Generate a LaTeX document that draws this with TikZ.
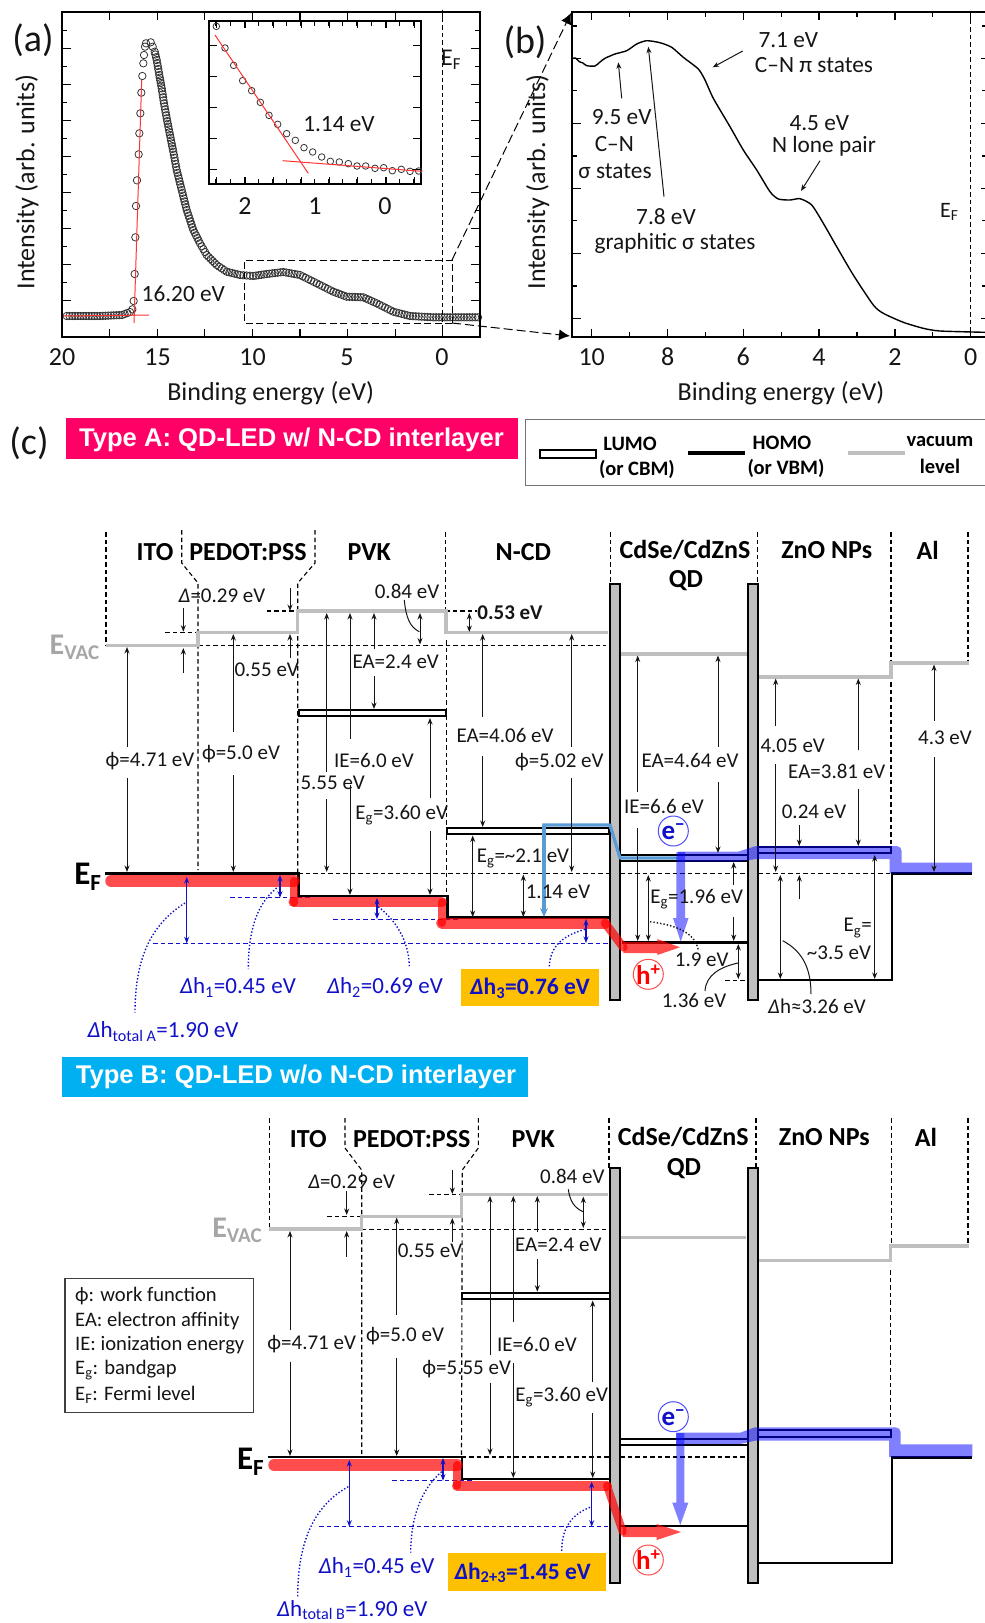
\documentclass[tikz,border=0pt]{standalone}
\usepackage{fontspec}
\setmainfont{Carlito}
\newfontfamily\arialf{Liberation Sans}
\usetikzlibrary{arrows.meta}
\definecolor{tx}{HTML}{151515}
\definecolor{lev}{HTML}{BFBFBF}
\definecolor{evac}{HTML}{A6A6A6}
\definecolor{bl}{HTML}{1010C8}
\definecolor{lb}{HTML}{5B9BD5}
\definecolor{pinkb}{HTML}{FF0066}
\definecolor{cyanb}{HTML}{00B0F0}
\definecolor{orb}{HTML}{FFC000}
\tikzset{
 txt/.style={inner sep=0pt,text=tx,align=center,font=\fontsize{21}{23}\selectfont},
 axl/.style={txt,font=\fontsize{26}{28}\selectfont},
 spl/.style={txt,font=\fontsize{23.3}{25}\selectfont},
 hdl/.style={txt,text=black,font=\fontsize{26}{28}\selectfont\bfseries},
 leg/.style={txt,text=black,font=\fontsize{20.5}{23}\selectfont\bfseries},
 blt/.style={txt,text=bl,font=\fontsize{23}{25}\selectfont},
 blb/.style={txt,text=bl,font=\fontsize{23.5}{25}\selectfont\bfseries},
 pan/.style={txt,font=\fontsize{38}{40}\selectfont},
 frm/.style={line width=1.8pt,black},
 tick/.style={line width=1.3pt,black},
 lev/.style={line width=3.2pt,color=lev},
 hm/.style={line width=2.4pt,black},
 lm/.style={line width=1.9pt,black,fill=white},
 bar/.style={line width=1.7pt,black,fill=lev},
 dsh/.style={line width=1.1pt,black,dash pattern=on 4.5pt off 3pt},
 arr/.style={-{Stealth[length=6.5pt,width=5pt]},line width=1pt,tx},
 dar/.style={{Stealth[length=6.5pt,width=5pt]}-{Stealth[length=6.5pt,width=5pt]},line width=1pt,tx},
 bdar/.style={{Stealth[length=6.5pt,width=5pt]}-{Stealth[length=6.5pt,width=5pt]},line width=1.4pt,bl},
 bdsh/.style={line width=1.1pt,bl,dash pattern=on 4.5pt off 3pt},
 bdot/.style={line width=1.4pt,bl,dotted},
 thinc/.style={line width=1pt,tx},
 rd/.style={draw=red,opacity=.7,line cap=round,line join=round},
 rdf/.style={fill=red,opacity=.7},
 blf/.style={fill=blue,opacity=.5},
 circ/.style={line width=.8pt,draw=black!80},
 redl/.style={line width=1pt,color=red!80},
 zoomd/.style={line width=.9pt,black,dash pattern=on 7pt off 3.5pt},
 efn/.style={txt,text=black,font=\fontsize{33}{33}\selectfont\bfseries},
 evn/.style={txt,text=evac,font=\fontsize{30}{32}\selectfont\bfseries},
 eln/.style={txt,text=bl,font=\fontsize{27}{27}\selectfont\bfseries},
 hol/.style={txt,text=red,font=\fontsize{27}{28}\selectfont\bfseries},
 bann/.style={txt,text=white,font=\arialf\bfseries\fontsize{25.6}{27}\selectfont},
}
\newcounter{lc}
\newcommand\lab[4][txt]{\stepcounter{lc}\node[#1,name=n\thelc] at (#2,#3) {#4};}
\newcommand\upd[4][arr]{\draw[#1] (#2,#3) -- (#2,#4);}
\newcommand\phis{ϕ}
\begin{document}
\begin{tikzpicture}[x=1pt,y=-1pt]
\useasboundingbox (0,0) rectangle (985,1623);
% ---------- panel a
\foreach \i in {0,1,...,8}{
  \draw[tick] (62+47.6*\i,337) -- ++(0,-8);
  \draw[tick] (62+47.6*\i,12) -- ++(0,8);}
\foreach \y in {48.3,84.6,120.3,156.3,192.3,228.3,264.3,300.3}{
  \draw[tick] (62,\y) -- ++(9,0); \draw[tick] (480,\y) -- ++(-9,0);}
\foreach \y in {30.7,66.7,102.7,138.7,174.7,210.7,246.7,282.7}{
  \draw[tick] (62,\y) -- ++(5,0); \draw[tick] (480,\y) -- ++(-5,0);}
\foreach \x/\y [remember=\x as \px (initially 64),remember=\y as \py (initially 316)] in {100/316,122/315,130/312}{
  \pgfmathsetmacro\nn{max(1,int(veclen(\x-\px,\y-\py)/2.7))}
  \foreach \k in {1,...,\nn}{\draw[circ] ({\px+(\x-\px)*\k/\nn},{\py+(\y-\py)*\k/\nn}) circle (3.7pt);}}
\foreach \x/\y in {397/928,401/903,404/822,406/712,408/618,411/541,416/463,418/400,421/340,424/278,427/228,430/190,432/165,435/140,438/130}{
  \draw[circ] (\x/3,\y/3) circle (3.7pt);}
\foreach \x/\y [remember=\x as \px (initially 146),remember=\y as \py (initially 41.5)] in {150.7/42.3,152.7/46.7,154.7/51.7,156.7/60,159.3/75,161.7/88.3,164/103.3,166.7/118.3,170/135,173.3/151.7,176.7/170,181.7/190,186.7/210,193.3/230,200/243.3,206.7/255,216.7/265,226.7/271.7,240/275,253.3/276,266.7/274,283.3/272,300/275,316.7/283.3,333.3/291.7,346.7/296.7,363.3/297.3,376.7/303.3,393.3/311.7,410/316,433.3/317.3,478/317.3}{
  \pgfmathsetmacro\nn{max(1,int(veclen(\x-\px,\y-\py)/2.7))}
  \foreach \k in {1,...,\nn}{\draw[circ] ({\px+(\x-\px)*\k/\nn},{\py+(\y-\py)*\k/\nn}) circle (3.7pt);}}
\draw[redl] (134,323) -- (141.7,80);
\draw[redl] (63,316) -- (149,315);
\draw[frm] (62,12) rectangle (480,337);
\draw[dsh] (442.3,10) -- (442.3,337);
\draw[zoomd] (452,323) -- (244,323) -- (244,260) -- (452,260) -- (452,323);
\coordinate (zb) at (452,323);\coordinate (zt) at (452,260);
\lab[axl]{62}{357}{20}\lab[axl]{157.5}{357}{15}\lab[axl]{252.5}{357}{10}\lab[axl]{347}{357}{5}\lab[axl]{442}{357}{0}
\lab[axl]{270.7}{393}{Binding energy (eV)}
\node[axl,rotate=90,name=ya] at (27,182) {Intensity (arb. units)};
\lab[spl]{183.3}{293.5}{16.20 eV}
\lab[txt,font=\fontsize{24}{26}\selectfont]{451}{60}{E\textsubscript{F}}
\lab[pan]{33}{40}{(a)}
% inset
\draw[line width=1.6pt,fill=white] (209,21) rectangle (421,184);
\foreach \i in {0,...,14}{
  \draw[line width=1.1pt] (216+14.1*\i,184) -- ++(0,-5);
  \draw[line width=1.1pt] (216+14.1*\i,21) -- ++(0,5);}
\foreach \i in {0,...,7}{
  \draw[line width=1.1pt] (216.8+28.2*\i,184) -- ++(0,-7);
  \draw[line width=1.1pt] (216.8+28.2*\i,21) -- ++(0,7);}
\foreach \y in {45.7,76.7,107.7,138.3,169.3}{
  \draw[line width=1.2pt] (209,\y) -- ++(8,0); \draw[line width=1.2pt] (421,\y) -- ++(-8,0);}
\foreach \x/\y in {649/79,675/144,701/196,728/242,755/272,781/307,807/346,833/373,860/401,886/421,912/443,938/456,965/471,991/484,1018/486,1045/491,1071/498,1097/498,1125/505,1151/503,1177/512,1204/508,1230/514,1256/513}{
  \draw[line width=.8pt,draw=black!80] (\x/3,\y/3) circle (3.3pt);}
\draw[redl] (215,35) -- (308.3,173.3);
\draw[redl] (282.7,160.7) -- (421.7,171.3);
\lab[spl]{339}{124}{1.14 eV}
\lab[axl]{245}{205.7}{2}\lab[axl]{315}{205.7}{1}\lab[axl]{385}{205.7}{0}
% ---------- panel b
\foreach \i in {0,2,...,10}{
  \draw[tick] (591.7+37.9*\i,337) -- ++(0,-8);
  \draw[tick] (591.7+37.9*\i,12) -- ++(0,8);}
\foreach \i in {1,3,...,9}{
  \draw[tick] (591.7+37.9*\i,337) -- ++(0,-5);
  \draw[tick] (591.7+37.9*\i,12) -- ++(0,5);}
\foreach \y in {58.3,123.3,188.7,253.3,318.3}{
  \draw[tick] (572,\y) -- ++(9,0); \draw[tick] (985,\y) -- ++(-4,0);}
\foreach \y in {26,90.7,156,220.7,286}{
  \draw[tick] (572,\y) -- ++(5,0); \draw[tick] (985,\y) -- ++(-3,0);}
\draw[line width=1.4pt,black] plot[smooth,tension=.4] coordinates {(573.3,58.3)(575.5,58)(579.3,61.7)(583,63)(586.7,65.7)(595,66)(600,62)(605,58.3)(615,54)(626.7,50.7)(636.7,44)(646.7,40.7)(660,42.7)(671.7,47.3)(683.3,57.3)(698.3,69)(705,80)(713.3,98.3)(730,126.7)(743.3,150)(756.7,170)(770,191.7)(778.3,199)(790,200)(800,198.7)(811.7,205)(823.3,223.3)(836.7,246.7)(853.3,275)(873.3,305)(883.3,313.3)(903.3,322.3)(923.3,328.3)(940,331)(985,332.3)};
\draw[frm] (985,12) -- (572,12) -- (572,337) -- (985,337);
\draw[dsh] (970.7,12) -- (970.7,332);
\coordinate (bt) at (571,13);\coordinate (bb) at (570,336);
\draw[line width=1pt,black,dash pattern=on 9pt off 4pt,-{Latex[length=11pt,width=11pt]}] (zt) -- (bt);
\draw[line width=1pt,black,dash pattern=on 9pt off 4pt,-{Latex[length=11pt,width=11pt]}] (zb) -- (bb);
\draw[arr] (621.7,98.3) -- (618.3,62.3);
\draw[arr] (664,196.7) -- (648.3,46.7);
\draw[arr] (742.7,51) -- (712.7,67.3);
\draw[arr] (820,160.7) -- (801,191);
\foreach \x/\t in {591.7/10,667.7/8,743.3/6,819/4,895/2,970.7/0}{\lab[axl]{\x}{357}{\t}}
\lab[axl]{781}{393}{Binding energy (eV)}
\node[axl,rotate=90,name=yb] at (537.7,182) {Intensity (arb. units)};
\lab[pan]{525}{42}{(b)}
\lab[spl]{788.3}{40}{7.1 eV}\lab[spl]{814}{65}{C–N π states}
\lab[spl]{621.7}{117.3}{9.5 eV}\lab[spl]{614.3}{144}{C–N}\lab[spl]{615}{171.7}{σ states}
\lab[spl]{666}{216.7}{7.8 eV}\lab[spl]{675}{243.3}{graphitic σ states}
\lab[spl]{819.3}{122.7}{4.5 eV}\lab[spl]{824}{146.7}{N lone pair}
\lab[txt,font=\fontsize{22}{24}\selectfont]{949.3}{212}{E\textsubscript{F}}
% ---------- banners
\lab[pan]{29}{443}{(c)}
\fill[pinkb] (66,418) rectangle (518,459);
\lab[bann]{291.5}{439.5}{Type A: QD-LED w/ N-CD interlayer}
\fill[cyanb] (62.3,1057) rectangle (528,1097);
\lab[bann]{296}{1077}{Type B: QD-LED w/o N-CD interlayer}
\draw[line width=1pt,black!55] (985,419) -- (525.7,419) -- (525.7,485.7) -- (985,485.7);
\draw[line width=1.8pt] (540,450) rectangle (596,458);
\draw[line width=4.2pt] (688,453) -- (745,453);
\draw[line width=4.2pt,lev] (848,453) -- (905,453);
\lab[leg]{630}{444}{LUMO}\lab[leg]{637}{469}{(or CBM)}
\lab[leg]{782}{443}{HOMO}\lab[leg]{786}{468}{(or VBM)}
\lab[leg]{940}{442}{vacuum}\lab[leg]{940}{466}{level}
% ---------- Type A
\draw[dsh] (106,532) -- (106,645);
\draw[dsh] (181.7,530) -- (181.7,563) -- (198,583) -- (198,870);
\draw[dsh] (315,530) -- (315,563) -- (297.7,583) -- (297.7,873);
\draw[dsh] (445.5,532) -- (445.5,611) (446.7,640) -- (446.7,897);
\draw[dsh] (610.7,532) -- (610.7,584);
\draw[dsh] (757.7,532) -- (757.7,584);
\draw[dsh] (891,532) -- (891,845);
\draw[dsh] (968,532) -- (968,660);
\draw[dsh] (198,645.7) -- (606,645.7);
\draw[dsh] (165,632.7) -- (198,632.7);
\draw[dsh] (266.7,611) -- (298,611);
\draw[dsh] (445,611) -- (476.7,611);
\draw[dsh] (298,873.3) -- (610,873.3) (620,873.3) -- (748,873.3) (758,873.3) -- (891,873.3);
\draw[dsh] (725,980.7) -- (748,980.7);
\draw[bdsh] (153.3,943.3) -- (608,943.3);
\draw[bdsh] (230,897.7) -- (310,897.7);
\draw[bdsh] (333.3,919.3) -- (460,919.3);
\draw[lev] (106,645.7) -- (198,645.7) -- (198,632.7) -- (297.7,632.7) -- (297.7,611) -- (446,611) -- (446,632.7) -- (608,632.7);
\draw[lev] (620.7,654) -- (746.7,654);
\draw[lev] (759,677) -- (891,677) -- (891,663) -- (969,663);
\draw[lm] (299,710) rectangle (445.7,716);
\draw[lm] (446.7,828.3) rectangle (609,834.3);
\draw[line width=1.9pt] (620,855) -- (748,855) (620,860.7) -- (748,860.7);
\draw[lm,fill=none] (758.3,847.3) rectangle (890.7,853.3);
\draw[hm] (105,873.3) -- (298.3,873.3) -- (298.3,896) -- (447.3,896) -- (447.3,917.3) -- (609,917.3);
\draw[hm] (621.7,942.3) -- (748.3,942.3);
\draw[hm] (758.3,980) -- (891.7,980) -- (891.7,873.3) -- (971.7,873.3);
% bars
\draw[bar] (610,584) rectangle (620,1000);
\draw[bar] (747.7,584) rectangle (758.3,1000);
% light blue
\draw[line width=3.2pt,lb,line join=round] (542.4,825) -- (610,825) -- (620,858) -- (678,858);
\draw[line width=3.2pt,lb,-{Stealth[length=9pt,width=8pt]}] (544,825) -- (544,917);
% red
\draw[rd,line width=11.5pt] (111,881) -- (294,881);
\draw[rd,line width=8pt] (293.7,881) -- (293.7,902.7);
\draw[rd,line width=10.5pt] (293.7,902) -- (441.7,902);
\draw[rd,line width=8pt] (441.7,902) -- (441.7,923);
\draw[rd,line width=11pt] (441.7,923) -- (605,923);
\draw[rd,line width=8.5pt] (605,923) -- (623.3,947.3);
\fill[rdf] (623.3,942) -- (657.3,942) -- (657.3,939) -- (680,947.3) -- (657.3,955) -- (657.3,953) -- (623.3,953) -- cycle;
% blue
\path[blf] (678,851.7) -- (738,851.7) -- (756,846) [rounded corners=5pt] -- (901.7,846) [sharp corners] -- (901.7,862.7) -- (972,862.7) -- (972,873.3) -- (889.7,873.3) -- (889.7,859) -- (756,859) -- (738,861.7) -- (678,861.7) -- cycle;
\path[blf] (676.3,852) -- (685,852) -- (685,918) -- (688.5,918) -- (680.7,941.7) -- (673,918) -- (676.3,918) -- cycle;
% arrows
\upd{127}{746.7}{647}\upd{127}{777.7}{872}
\upd{233.3}{731.7}{634}\upd{233.3}{775}{872}
\upd{183.3}{608}{631.7}\upd{183.3}{673}{648}
\upd{290}{587.7}{611}\upd{290}{658}{634}
\upd{326.7}{771.7}{613}\upd{326.7}{799}{872}
\upd{350}{739}{613}\upd{350}{785}{895}
\upd{374}{649}{613}\upd{374}{675.7}{709}
\upd{430}{798}{718}\upd{430}{830.7}{895}
\upd[dar]{420}{613}{644.5}
\upd[dar]{469.3}{613}{632}
\upd{482.7}{716.7}{634}\upd{482.7}{755.7}{827}
\upd[dar]{472.7}{835.5}{917}
\upd[dar]{523.3}{874.5}{917}
\upd{571.7}{746.7}{634}\upd{571.7}{778}{872}
\upd{637.7}{792.3}{655.5}\upd{637.7}{828}{941}
\upd{718}{746.7}{655.5}\upd{718}{782}{853}
\upd[dar]{648.3}{875}{941}
\upd{733.7}{885}{862}\upd{733.7}{916.7}{941}
\upd[dar]{738.3}{944}{979}
\upd{775.7}{725.7}{678.5}\upd{775.7}{764.3}{872}
\upd{858.3}{750}{678.5}\upd{858.3}{789}{846}
\upd{799.3}{825}{846}\upd{799.3}{899.3}{875}
\upd[dar]{780.3}{875}{979}
\upd[dar]{874.7}{855}{979}
\upd{934}{720.7}{664.5}\upd{934}{757.3}{872}
\draw[thinc] (404.3,600) .. controls (406,618) and (410,627) .. (419.3,631.7);
\draw[thinc] (782.7,940.7) .. controls (800,950) and (811,965) .. (811,994);
\draw[thinc] (738,963) .. controls (720,967) and (706,975) .. (705,991);
\draw[line width=1.4pt,tx,dotted] (650,921.7) .. controls (675,925) and (695,932) .. (698.3,950);
\upd[bdar]{186.7}{877}{943.3}
\upd[bdar]{280}{875}{897.7}
\upd[bdar]{377}{898}{919}
\upd[bdar]{586}{919}{943}
\draw[bdot] (185,903) .. controls (150,925) and (135,960) .. (135,1012.7);
\draw[bdot] (276.7,888) .. controls (255,905) and (248.3,935) .. (248.3,969);
\draw[bdot] (378.3,906.7) .. controls (395,920) and (409.3,940) .. (409.3,967.7);
\draw[bdot] (585,929.3) .. controls (565,935) and (549.3,945) .. (549.3,968);
% labels A
\foreach \x/\t in {155/ITO,248/PEDOT:PSS,369.3/PVK,523.3/N-CD}{\lab[hdl]{\x}{551.7}{\t}}
\lab[hdl]{685}{550}{CdSe/CdZnS}\lab[hdl]{686}{581}{QD}\lab[hdl]{826.7}{550}{ZnO NPs}\lab[hdl]{927.7}{550}{Al}
\lab[evn]{74.7}{647}{E\textsubscript{VAC}}
\lab[efn]{88}{877}{E\textsubscript{F}}
\lab{222}{596}{\textit{Δ}=0.29 eV}\lab{266.7}{670}{0.55 eV}\lab{407}{591}{0.84 eV}
\lab[txt,font=\fontsize{21}{23}\selectfont\bfseries]{510}{613}{0.53 eV}
\lab{395.7}{661.7}{EA=2.4 eV}\lab{150}{761}{\phis=4.71 eV}\lab{241}{754}{\phis=5.0 eV}
\lab{374}{760.7}{IE=6.0 eV}\lab{332.7}{783}{5.55 eV}\lab{401.7}{815}{E\textsubscript{g}=3.60 eV}
\lab{505}{735.7}{EA=4.06 eV}\lab{559.3}{762}{\phis=5.02 eV}\lab{690}{760}{EA=4.64 eV}
\lab{664}{806}{IE=6.6 eV}\lab{792.7}{746}{4.05 eV}\lab{836.7}{771}{EA=3.81 eV}\lab{945}{737.7}{4.3 eV}
\lab{814}{812}{0.24 eV}\lab{523}{858}{E\textsubscript{g}=\textasciitilde 2.1 eV}\lab{558}{892}{1.14 eV}
\lab{696.7}{899}{E\textsubscript{g}=1.96 eV}\lab{701.7}{960}{1.9 eV}\lab{694}{1000}{1.36 eV}
\lab{817}{1006}{\textit{Δ}h≈3.26 eV}\lab{857.7}{928}{E\textsubscript{g}=}\lab{839}{953}{\textasciitilde 3.5 eV}
\draw[line width=1pt,blue!70] (673.3,831) circle (15pt);
\lab[eln]{673.3}{832}{e\textsuperscript{−}}
\draw[line width=1pt,red!70] (648.3,974.3) circle (15pt);
\lab[hol]{648.3}{974.3}{h\textsuperscript{+}}
\lab[blt]{238}{987.7}{\textit{Δ}h\textsubscript{1}=0.45 eV}
\lab[blt]{385}{987.7}{\textit{Δ}h\textsubscript{2}=0.69 eV}
\lab[blt]{163}{1031.7}{\textit{Δ}h\textsubscript{total A}=1.90 eV}
\fill[orb] (461,969) rectangle (598.7,1005.7);
\lab[blb]{530}{988}{\textit{Δ}h\textsubscript{3}=0.76 eV}
% ---------- Type B
\draw[dsh] (269.3,1118) -- (269.3,1228);
\draw[dsh] (345,1118) -- (345,1148) -- (361.7,1170) -- (361.7,1454);
\draw[dsh] (478.3,1118) -- (478.3,1148) -- (462.3,1170) -- (461.5,1456);
\draw[dsh] (609,1118) -- (609,1168);
\draw[dsh] (756,1118) -- (756,1168);
\draw[dsh] (891.7,1118) -- (891.7,1245) (890.7,1270) -- (890.7,1427);
\draw[dsh] (968,1118) -- (968,1245);
\draw[dsh] (361.7,1229.3) -- (608,1229.3);
\draw[dsh] (327.3,1216.3) -- (361.7,1216.3);
\draw[dsh] (429,1194.7) -- (461.7,1194.7);
\draw[dsh] (461.7,1457) -- (610,1457) (620,1457) -- (745,1457);
\draw[bdsh] (319.3,1526.7) -- (608.3,1526.7);
\draw[bdsh] (392.3,1480.7) -- (473.3,1480.7);
\draw[lev] (269,1229) -- (361.7,1229) -- (361.7,1216.3) -- (461.7,1216.3) -- (461.7,1194.7) -- (608,1194.7);
\draw[lev] (620.7,1237.7) -- (746,1237.7);
\draw[lev] (756.7,1260.3) -- (890.7,1260.3) -- (890.7,1246) -- (969,1246);
\draw[lm] (462,1292.7) rectangle (610,1299);
\draw[line width=1.9pt] (620,1439.3) -- (748,1439.3) (620,1445) -- (748,1445);
\draw[lm,fill=none] (757.7,1430) rectangle (890.7,1436.7);
\draw[hm] (268.3,1456.7) -- (461.7,1456.7) -- (461.7,1479) -- (610,1479);
\draw[hm] (620,1526) -- (748,1526);
\draw[hm] (757.7,1562.7) -- (891.7,1562.7) -- (891.7,1457.3) -- (971.7,1457.3);
\draw[bar] (610,1168.3) rectangle (620,1582.7);
\draw[bar] (747.7,1168.3) rectangle (757.7,1582.7);
\draw[rd,line width=11.5pt] (274,1465) -- (457,1465);
\draw[rd,line width=8pt] (457,1465) -- (457,1485.7);
\draw[rd,line width=10pt] (457,1485.7) -- (607,1485.7);
\draw[rd,line width=8pt] (607,1485.7) -- (622.7,1531.7);
\fill[rdf] (622.7,1527) -- (656.7,1527) -- (656.7,1524) -- (681,1532) -- (656.7,1540) -- (656.7,1537) -- (622.7,1537) -- cycle;
\path[blf] (676,1432.7) -- (740,1432.7) -- (755,1427.3) [rounded corners=5pt] -- (900.7,1427.3) [sharp corners] -- (900.7,1444.3) -- (972.3,1444.3) -- (972.3,1457) -- (889,1457) -- (889,1440.7) -- (755,1440.7) -- (740,1444) -- (676,1444) -- cycle;
\path[blf] (676.3,1433) -- (684.3,1433) -- (684.3,1502.7) -- (688.3,1502.7) -- (680.3,1525) -- (672.3,1502.7) -- (676.3,1502.7) -- cycle;
\upd{290}{1330}{1231}\upd{290}{1361.7}{1456}
\upd{396.7}{1315}{1217.5}\upd{396.7}{1358}{1456}
\upd{346.7}{1191}{1215}\upd{346.7}{1256.7}{1231}
\upd{452.3}{1170}{1194}\upd{452.3}{1241.7}{1218}
\upd{490}{1355}{1196}\upd{490}{1382.7}{1455}
\upd{513.3}{1322.3}{1196}\upd{513.3}{1363}{1478}
\upd{537.3}{1231.7}{1196}\upd{537.3}{1259}{1291.7}
\upd{592.7}{1381.7}{1300.5}\upd{592.7}{1413}{1478}
\upd[dar]{583.3}{1196.5}{1228}
\draw[thinc] (568.3,1189.3) .. controls (570,1202) and (575,1208) .. (583,1211.7);
\upd[bdar]{349.3}{1460}{1526.7}
\upd[bdar]{443}{1458}{1480.7}
\upd[bdar]{591.7}{1481.7}{1526.7}
\draw[bdot] (348.3,1486.7) .. controls (315,1505) and (297.7,1540) .. (297.7,1596.7);
\draw[bdot] (441.7,1471.7) .. controls (420,1490) and (410.7,1520) .. (410.7,1552.7);
\draw[bdot] (590,1507.3) .. controls (570,1515) and (561.7,1530) .. (561.7,1551);
\lab[hdl]{308.3}{1139.3}{ITO}\lab[hdl]{411.7}{1139.3}{PEDOT:PSS}\lab[hdl]{533.3}{1139.3}{PVK}
\lab[hdl]{683.3}{1137.3}{CdSe/CdZnS}\lab[hdl]{684}{1168.3}{QD}\lab[hdl]{824.3}{1137.3}{ZnO NPs}\lab[hdl]{926}{1137.3}{Al}
\lab[evn]{237.3}{1230}{E\textsubscript{VAC}}
\lab[efn]{250.7}{1461.7}{E\textsubscript{F}}
\lab{351.7}{1181.7}{\textit{Δ}=0.29 eV}\lab{430}{1250.7}{0.55 eV}\lab{572.3}{1176.7}{0.84 eV}
\lab{558.3}{1245}{EA=2.4 eV}\lab{311.7}{1344.3}{\phis=4.71 eV}\lab{405}{1335.7}{\phis=5.0 eV}
\lab{537}{1344.7}{IE=6.0 eV}\lab{466.7}{1369}{\phis=5.55 eV}\lab{561.7}{1397.3}{E\textsubscript{g}=3.60 eV}
\draw[line width=1pt,blue!70] (673.3,1416.7) circle (15pt);
\lab[eln]{673.3}{1417.7}{e\textsuperscript{−}}
\draw[line width=1pt,red!70] (648.3,1560) circle (15pt);
\lab[hol]{648.3}{1560}{h\textsuperscript{+}}
\lab[blt]{376.7}{1567.7}{\textit{Δ}h\textsubscript{1}=0.45 eV}
\lab[blt]{352.3}{1610}{\textit{Δ}h\textsubscript{total B}=1.90 eV}
\fill[orb] (447.7,1552.7) rectangle (606,1590.7);
\lab[blb]{522.7}{1572.7}{\textit{Δ}h\textsubscript{2+3}=1.45 eV}
% legend box B
\draw[line width=1.1pt,black!75] (65,1278.3) rectangle (253.3,1412.7);
\foreach \y/\t in {1295.7/\phis: work function,1320.7/EA: electron affinity,1345.3/IE: ionization energy,1370/E\textsubscript{g}: bandgap,1395/E\textsubscript{F}: Fermi level}{
  \stepcounter{lc}\node[txt,anchor=west,font=\fontsize{20.6}{22}\selectfont,name=m\thelc] at (75,\y) {\t};}
\end{tikzpicture}
\end{document}
